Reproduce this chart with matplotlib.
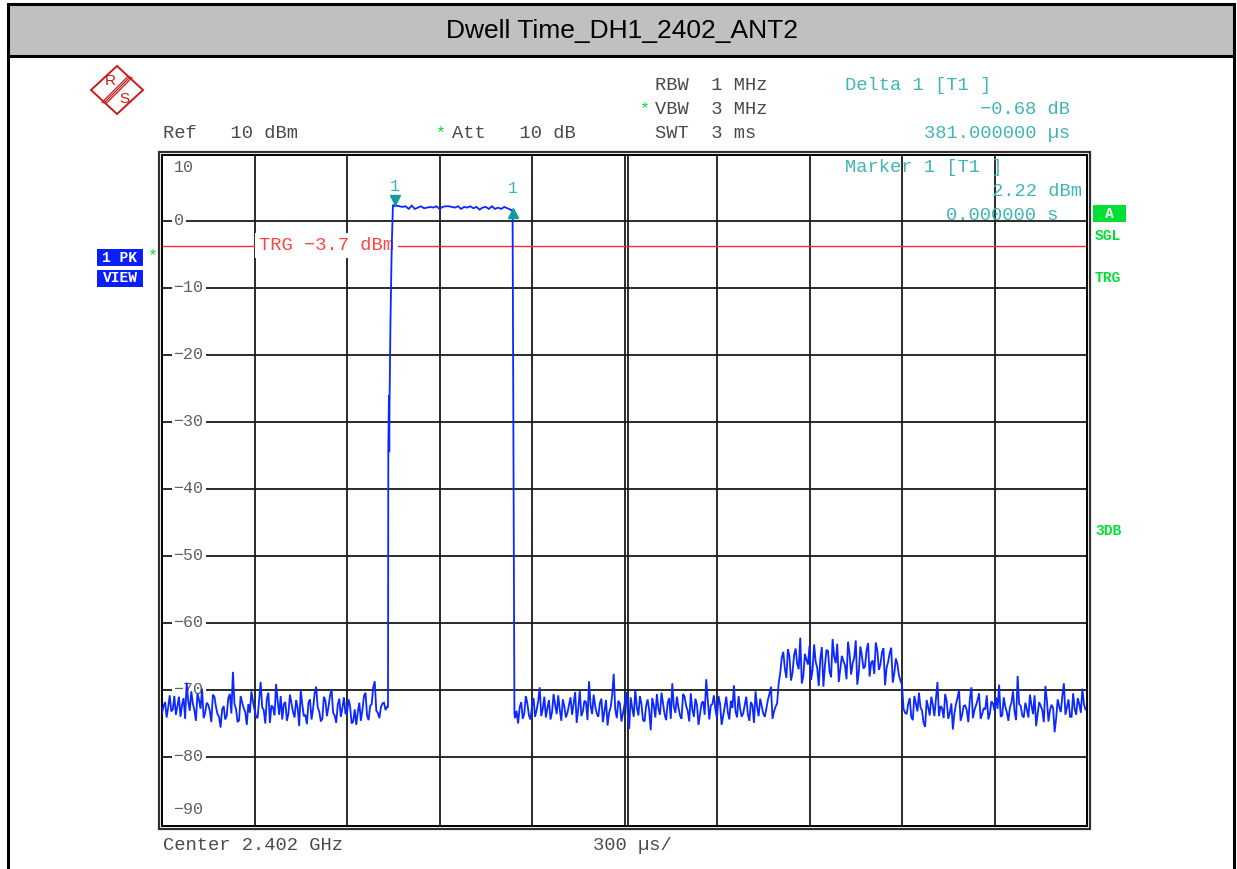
import numpy as np
import matplotlib.pyplot as plt
import matplotlib.transforms as mtransforms
from matplotlib.patches import Rectangle, Polygon
from matplotlib.lines import Line2D

# trace values (dBm), time in us, 300 us/div, 3 ms sweep
# noise floor before the burst, every 10 us from 0
pre_noise = [-73.5, -71.8, -72.6, -73.2, -70.9, -72.4, -74.0, -71.2, -68.9, -73.1,
             -72.0, -74.6, -71.5, -69.8, -73.4, -72.2, -74.8, -71.0, -73.6, -75.6,
             -72.4, -73.8, -70.6, -67.3, -72.8, -74.5, -71.9, -73.3, -72.1, -70.2,
             -72.9, -74.2, -68.8, -73.0, -71.3, -74.9, -72.6, -69.1, -73.7, -74.4,
             -71.8, -73.5, -72.0, -74.1, -72.7, -70.0, -73.9, -75.1, -71.4, -72.8,
             -69.5, -73.2, -74.3, -71.6, -72.5, -69.9, -73.8, -72.2, -74.0, -71.1,
             -73.6, -72.4, -74.7, -75.2, -71.9, -73.0, -70.4, -74.5, -72.1, -68.7,
             -73.4, -72.6, -71.9, -72.5]
# the points in between (5 us later)
pre_mid = [-72.4, -74.1, -70.8, -72.9, -73.7, -71.0, -72.2, -74.3, -71.6, -70.2,
           -73.0, -70.5, -72.8, -74.2, -71.9, -73.1, -70.7, -72.5, -74.0, -72.9,
           -74.4, -71.2, -73.5, -72.1, -74.8, -70.9, -72.7, -75.2, -73.4, -71.7,
           -74.0, -71.5, -72.6, -75.0, -70.4, -72.3, -73.8, -71.6, -70.9, -72.1,
           -74.6, -70.7, -73.3, -71.5, -75.4, -72.2, -73.7, -71.9, -74.4, -70.5,
           -72.6, -74.7, -71.0, -73.9, -70.8, -73.4, -74.9, -71.3, -72.7, -73.5,
           -71.4, -75.0, -72.9, -73.3, -74.6, -70.9, -73.8, -72.4, -69.6, -73.1,
           -74.2, -72.0, -73.0]
rise_t = [733, 734, 736, 737, 738, 741, 745, 749, 756]
rise_v = [-72.5, -34.0, -26.0, -34.5, -27.0, -15.0, -4.0, 2.4, 2.22]
flat_v = [2.3, 2.2, 2.1, 2.2, 1.8, 2.3, 1.8, 2.0, 2.2, 1.9,
          2.0, 2.1, 2.0, 2.2, 1.8, 2.1, 2.2, 2.2, 2.1, 2.0,
          2.2, 1.8, 2.1, 2.0, 2.2, 1.9, 2.1, 1.7, 2.0, 2.1,
          1.8, 2.2, 1.8, 2.0, 1.8, 2.1, 1.9, 1.7]
fall_t = [1137, 1140, 1143]
fall_v = [1.54, -35.0, -73.5]
# every 10 us from 1145
post_noise = [-74.2, -75.0, -71.8, -73.5, -72.0, -74.4, -71.2, -73.0, -69.6, -72.8,
              -74.1, -71.5, -73.3, -72.2, -70.8, -74.6, -72.5, -73.4, -71.1, -72.0,
              -74.9, -70.1, -73.2, -71.8, -68.7, -73.6, -72.4, -74.0, -71.3, -73.1,
              -75.3, -72.6, -67.6, -74.2, -72.0, -73.5, -70.3, -75.8, -72.7, -69.9,
              -73.8, -72.1, -74.7, -71.4, -76.0, -72.3, -70.6, -73.7, -72.0, -74.5,
              -71.2, -69.0, -73.4, -72.6, -74.3, -71.0, -73.1, -70.5, -74.0, -72.2,
              -73.6, -71.7, -68.4, -74.4, -72.1, -73.0, -70.9, -75.2, -72.5, -73.3,
              -71.6, -69.3, -74.1, -72.8, -73.5, -71.0, -74.6, -72.3, -70.2, -73.9,
              -72.4, -74.0, -71.5, -69.5, -73.2, -72.0,
              # raised floor
              -67.5, -64.3, -68.2, -65.0, -67.4, -63.8, -66.9, -69.0, -64.6, -66.2,
              -68.5, -63.2, -66.7, -65.4, -69.5, -64.0, -67.2, -62.4, -66.0, -68.8,
              -64.9, -66.3, -62.8, -67.7, -65.2, -69.2, -63.5, -66.8, -64.1, -68.0,
              -65.6, -62.9, -67.0, -64.4, -69.3, -65.8, -63.7, -67.5, -66.1, -68.6,
              # back to floor
              -72.8, -73.6, -71.2, -74.5, -72.0, -70.4, -73.1, -75.5, -72.6, -71.0,
              -73.9, -68.8, -72.4, -74.2, -71.7, -73.4, -75.9, -72.1, -70.0, -73.7,
              -72.3, -74.8, -69.6, -73.0, -71.5, -74.3, -72.7, -70.8, -73.5, -72.0,
              -71.1, -69.2, -73.8, -72.5, -74.6, -71.9, -73.2, -67.9, -72.4, -74.1,
              -72.9, -70.7, -73.6, -75.4, -71.8, -73.0, -69.4, -74.7, -72.2, -76.3,
              -71.4, -73.3, -69.0, -72.6, -74.0, -70.5, -73.7, -72.1, -69.8, -72.9]
post_mid = [-73.1, -72.6, -74.3, -70.9, -73.8, -72.5, -74.0, -71.7, -73.9, -71.0,
            -72.7, -74.4, -70.6, -73.6, -72.9, -71.4, -74.1, -72.2, -73.7, -70.3,
            -72.8, -73.9, -71.6, -74.5, -72.3, -70.7, -73.5, -72.0, -74.8, -71.5,
            -73.4, -70.8, -72.9, -71.6, -74.7, -72.2, -73.3, -71.1, -74.0, -72.6,
            -70.9, -74.5, -72.4, -73.0, -71.2, -74.1, -72.8, -70.4, -73.6, -71.9,
            -74.3, -72.5, -71.0, -73.8, -70.6, -72.4, -74.7, -72.9, -71.3, -75.2,
            -72.0, -73.7, -71.5, -72.3, -70.8, -74.2, -72.1, -73.9, -71.0, -74.4,
            -72.7, -73.2, -70.9, -74.0, -72.2, -73.6, -71.8, -74.9, -72.5, -71.3,
            -73.5, -72.8, -70.6, -74.3, -72.5, -69.0,
            -65.2, -66.8, -63.9, -68.6, -64.8, -66.1, -62.2, -67.9, -65.5, -63.4,
            -67.0, -65.8, -69.4, -63.6, -66.4, -64.2, -68.1, -65.0, -63.1, -66.9,
            -65.7, -68.4, -64.6, -66.0, -62.6, -67.3, -64.9, -66.5, -63.0, -65.9,
            -67.6, -64.1, -66.2, -63.8, -66.7, -64.5, -68.9, -65.3, -67.8,
            -69.2,
            -73.4, -72.1, -74.0, -70.9, -73.2, -72.6, -74.9, -71.5, -73.8, -72.2,
            -71.3, -73.9, -72.7, -70.6, -74.3, -72.0, -73.5, -71.2, -74.6, -72.4,
            -73.0, -71.4, -74.2, -72.3, -70.5, -73.6, -72.9, -74.4, -71.7, -73.1,
            -72.8, -74.0, -71.1, -73.3, -72.6, -70.2, -74.5, -72.1, -73.8, -71.9,
            -74.1, -72.3, -70.8, -73.5, -72.4, -74.8, -71.6, -73.0, -72.7, -74.2,
            -72.5, -70.9, -73.7, -71.4, -74.0, -72.8, -71.2, -73.4, -72.1]
marker_t = [756, 1137]
marker_v = [2.22, 1.54]
trg_level = -3.7
y_ticks = [10, 0, -10, -20, -30, -40, -50, -60, -70, -80, -90]


def interleave(t0, a, b):
    # a at t0, t0+10, ...; b sits 5 us after each point of a
    tt = np.arange(len(a) + len(b)) * 5 + t0
    vv = np.empty(len(a) + len(b))
    vv[0::2] = a
    vv[1::2] = b
    return tt, vv

t_pre, v_pre = interleave(0, pre_noise, pre_mid)
t_post, v_post = interleave(1145, post_noise, post_mid)
t_flat = np.arange(760, 1131, 10)
t = np.concatenate([t_pre, rise_t, t_flat, fall_t, t_post])
v = np.concatenate([v_pre, rise_v, flat_v, fall_v, v_post])

W, H = 1237, 869
MONO = 'Liberation Mono'
GRAY = '#4a4a4a'
TEAL = '#3fb5b5'
GREEN = '#00e034'

def fx(x):
    return x / W

def fy(y):
    return 1 - y / H

fig = plt.figure(figsize=(W / 100, H / 100), dpi=100)
fig.patch.set_facecolor('white')

# outer frame + title bar
fig.add_artist(Rectangle((fx(8), fy(56)), fx(1234) - fx(8), fy(4) - fy(56),
                         transform=fig.transFigure, fc='#c0c0c0', ec='black', lw=2.2))
fig.add_artist(Line2D([fx(8), fx(8)], [0, fy(56)], transform=fig.transFigure, color='black', lw=2.2))
fig.add_artist(Line2D([fx(1234), fx(1234)], [0, fy(56)], transform=fig.transFigure, color='black', lw=2.2))
fig.text(fx(622), fy(31), 'Dwell Time_DH1_2402_ANT2', ha='center', va='center',
         fontsize=19, family='Liberation Sans')

ax = fig.add_axes([fx(162), fy(826), fx(1087) - fx(162), fy(155) - fy(826)])
ax.set_xlim(0, 3000)
ax.set_ylim(-90.3, 9.85)
ax.set_xticks([])
ax.set_yticks([])
for s in ax.spines.values():
    s.set_linewidth(1.4)
    s.set_color('black')

for xv in range(300, 3000, 300):
    ax.axvline(xv, color='#1a1a1a', lw=1.3, zorder=1)
off = mtransforms.offset_copy(ax.transData, fig=fig, x=3, y=0, units='dots')
ax.plot([1500, 1500], [-90.3, 9.85], color='#1a1a1a', lw=1.3, zorder=1, transform=off)
for yv in range(-80, 10, 10):
    ax.axhline(yv, color='#1a1a1a', lw=1.3, zorder=1)

# outer border of the diagram
fig.add_artist(Rectangle((fx(159), fy(829)), fx(1090) - fx(159), fy(152) - fy(829),
                         transform=fig.transFigure, fc='none', ec='#303030', lw=1.6))

for yv in y_ticks:
    lbl = str(yv).replace('-', '\u2212')
    if yv == 10:
        ax.text(0.0125, 8.0, lbl, transform=ax.get_yaxis_transform(), ha='left', va='center',
                fontsize=12, family=MONO, color='#606060')
    elif yv == -90:
        ax.text(0.0125, -87.8, lbl, transform=ax.get_yaxis_transform(), ha='left', va='center',
                fontsize=12, family=MONO, color='#606060')
    else:
        ax.text(0.0125, yv, lbl, transform=ax.get_yaxis_transform(), ha='left', va='center',
                fontsize=12, family=MONO, color='#606060', zorder=3,
                bbox=dict(fc='white', ec='none', pad=1.5))

# trigger line
ax.axhline(trg_level, color='#ff2a2a', lw=1.0, zorder=2)
ax.text(314, trg_level, 'TRG \u22123.7 dBm', ha='left', va='center', fontsize=13.5,
        family=MONO, color='#ff4444', zorder=3, bbox=dict(fc='white', ec='none', pad=3))

# trace
ax.plot(t, v, color='#0a28ff', lw=1.3, zorder=5, solid_joinstyle='miter')

# markers
down = mtransforms.offset_copy(ax.transData, fig=fig, x=0, y=6, units='dots')
up = mtransforms.offset_copy(ax.transData, fig=fig, x=0, y=-2, units='dots')
ax.plot(marker_t[0], marker_v[0], marker='v', ms=7, color='#129c9c', transform=down, zorder=6)
ax.plot(marker_t[1], marker_v[1], marker='^', ms=7, color='#129c9c', transform=up, zorder=6)
for mt, mv, dy in zip(marker_t, marker_v, [20, 22]):
    ax.annotate('1', (mt, mv), xytext=(0, dy), textcoords='offset pixels', ha='center',
                va='center', fontsize=12, family=MONO, color=TEAL)

# header texts
def txt(x, y, s, color=GRAY, ha='left', size=13.5, **kw):
    fig.text(fx(x), fy(y), s, ha=ha, va='center', fontsize=size, family=MONO, color=color, **kw)

txt(163, 134, 'Ref   10 dBm')
txt(436, 133, '*', color=GREEN, size=12)
txt(452, 134, 'Att   10 dB')
txt(655, 86, 'RBW  1 MHz')
txt(640, 109, '*', color=GREEN, size=12)
txt(655, 110, 'VBW  3 MHz')
txt(655, 134, 'SWT  3 ms')
txt(845, 86, 'Delta 1 [T1 ]', color=TEAL)
txt(1070, 110, '\u22120.68 dB', color=TEAL, ha='right')
txt(1070, 134, '381.000000 \u00b5s', color=TEAL, ha='right')
txt(845, 167, 'Marker 1 [T1 ]', color=TEAL)
txt(1082, 191, '2.22 dBm', color=TEAL, ha='right')
txt(1058, 215, '0.000000 s', color=TEAL, ha='right')
txt(163, 845, 'Center 2.402 GHz')
txt(593, 845, '300 \u00b5s/')

# left side status boxes
for (y0, s) in [(249, '1 PK'), (270, 'VIEW')]:
    fig.add_artist(Rectangle((fx(97), fy(y0 + 17)), fx(143) - fx(97), fy(y0) - fy(y0 + 17),
                             transform=fig.transFigure, fc='#0a1eff', ec='none'))
    fig.text(fx(120), fy(y0 + 8.5), s, ha='center', va='center', fontsize=10.5,
             family=MONO, color='white', weight='bold')
txt(148, 256, '*', color=GREEN, size=12)

# right side status
fig.add_artist(Rectangle((fx(1093), fy(222)), fx(1126) - fx(1093), fy(205) - fy(222),
                         transform=fig.transFigure, fc=GREEN, ec='none'))
fig.text(fx(1109), fy(213.5), 'A', ha='center', va='center', fontsize=10.5, family=MONO,
         color='white', weight='bold')
for y0, s in [(236, 'SGL'), (278, 'TRG'), (531, '3DB')]:
    txt(1095, y0, s, color=GREEN, size=10.5, weight='bold')

# R&S logo
RED = '#cc1a1a'
fig.add_artist(Polygon([(fx(117), fy(66)), (fx(143), fy(90)), (fx(117), fy(114)), (fx(91), fy(90))],
                       closed=True, transform=fig.transFigure, fc='none', ec=RED, lw=1.4))
for d in (-2, 0, 2):
    fig.add_artist(Line2D([fx(130 + d), fx(104 + d)], [fy(77 + d * 0.3), fy(103 + d * 0.3)],
                          transform=fig.transFigure, color=RED, lw=0.9))
fig.text(fx(110), fy(81), 'R', ha='center', va='center', fontsize=11, color=RED, family='Liberation Sans')
fig.text(fx(124), fy(99), 'S', ha='center', va='center', fontsize=11, color=RED, family='Liberation Sans')

fig.savefig('out.png', dpi=100)
